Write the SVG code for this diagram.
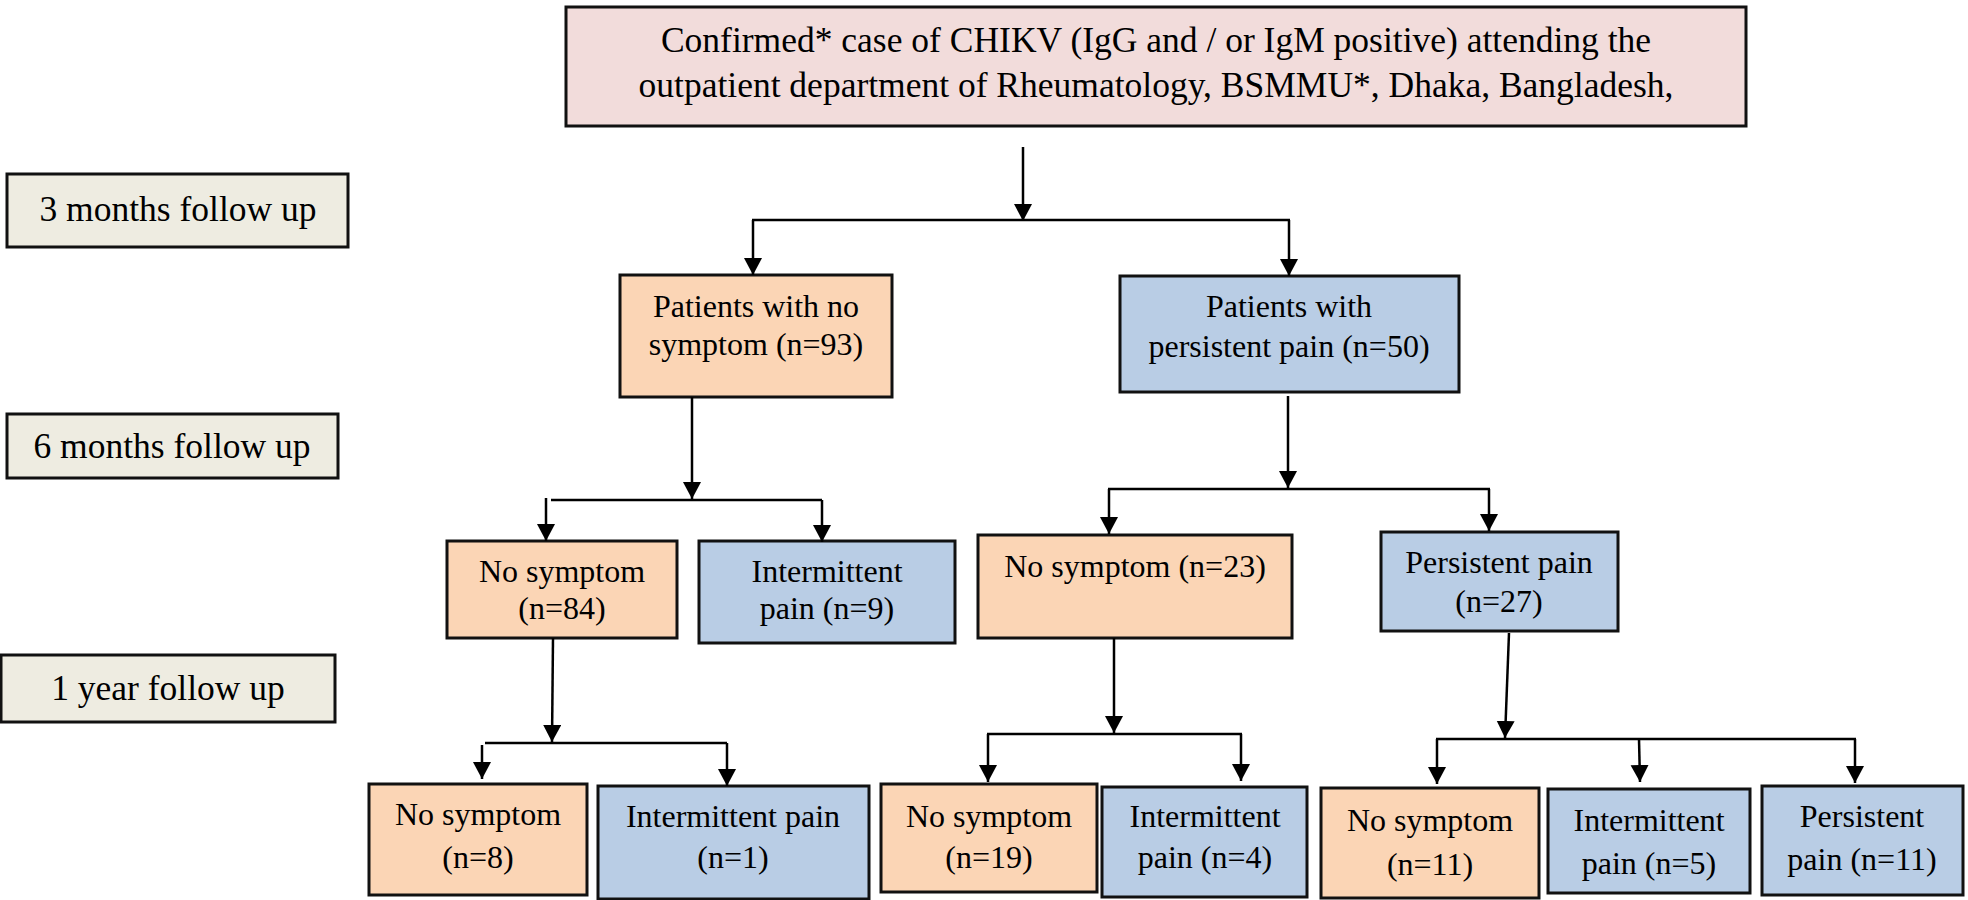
<svg xmlns="http://www.w3.org/2000/svg" width="1968" height="900" viewBox="0 0 1968 900">
<defs>
<marker id="ah" markerUnits="userSpaceOnUse" markerWidth="20" markerHeight="20" refX="17" refY="9" orient="auto">
<path d="M0,0 L17,9 L0,18 Z" fill="#000"/>
</marker>
<style>
.box{stroke:#111;stroke-width:3}
.pink{fill:#F2DCDB}
.org{fill:#FBD5B5}
.blu{fill:#B9CDE5}
.beige{fill:#EEECE1}
text{font-family:"Liberation Serif","Times New Roman",serif;fill:#000;text-anchor:middle}
.t{font-size:32px}
.tl{font-size:35.5px}
.tt{font-size:35.5px}
.c line{stroke:#000;stroke-width:2.5}
.c .a{marker-end:url(#ah)}
</style>
</defs>
<rect width="1968" height="900" fill="#fff"/>

<g id="top">
<rect class="box pink" x="566" y="7" width="1180" height="119"/>
<text class="tt" x="1156" y="52">Confirmed* case of CHIKV (IgG and / or IgM positive) attending the</text>
<text class="tt" x="1156" y="97">outpatient department of Rheumatology, BSMMU*, Dhaka, Bangladesh,</text>
</g>

<g id="label-3m">
<rect class="box beige" x="7" y="174" width="341" height="73"/>
<text class="tl" x="178" y="221">3 months follow up</text>
</g>
<g id="label-6m">
<rect class="box beige" x="7" y="414" width="331" height="64"/>
<text class="tl" x="172" y="458">6 months follow up</text>
</g>
<g id="label-1y">
<rect class="box beige" x="1" y="655" width="334" height="67"/>
<text class="tl" x="168" y="700">1 year follow up</text>
</g>

<g id="n93">
<rect class="box org" x="620" y="275" width="272" height="122"/>
<text class="t" x="756" y="317">Patients with no</text>
<text class="t" x="756" y="355">symptom (n=93)</text>
</g>
<g id="n50">
<rect class="box blu" x="1120" y="276" width="339" height="116"/>
<text class="t" x="1289" y="317">Patients with</text>
<text class="t" x="1289" y="357">persistent pain (n=50)</text>
</g>

<g id="n84">
<rect class="box org" x="447" y="541" width="230" height="97"/>
<text class="t" x="562" y="582">No symptom</text>
<text class="t" x="562" y="619">(n=84)</text>
</g>
<g id="n9">
<rect class="box blu" x="699" y="541" width="256" height="102"/>
<text class="t" x="827" y="582">Intermittent</text>
<text class="t" x="827" y="619">pain (n=9)</text>
</g>
<g id="n23">
<rect class="box org" x="978" y="535" width="314" height="103"/>
<text class="t" x="1135" y="577">No symptom (n=23)</text>
</g>
<g id="n27">
<rect class="box blu" x="1381" y="532" width="237" height="99"/>
<text class="t" x="1499" y="573">Persistent pain</text>
<text class="t" x="1499" y="612">(n=27)</text>
</g>

<g id="n8">
<rect class="box org" x="369" y="784" width="218" height="111"/>
<text class="t" x="478" y="825">No symptom</text>
<text class="t" x="478" y="868">(n=8)</text>
</g>
<g id="n1">
<rect class="box blu" x="598" y="786" width="271" height="113"/>
<text class="t" x="733" y="827">Intermittent pain</text>
<text class="t" x="733" y="868">(n=1)</text>
</g>
<g id="n19">
<rect class="box org" x="881" y="784" width="216" height="108"/>
<text class="t" x="989" y="827">No symptom</text>
<text class="t" x="989" y="868">(n=19)</text>
</g>
<g id="n4">
<rect class="box blu" x="1102" y="787" width="205" height="110"/>
<text class="t" x="1205" y="827">Intermittent</text>
<text class="t" x="1205" y="868">pain (n=4)</text>
</g>
<g id="n11a">
<rect class="box org" x="1321" y="788" width="218" height="110"/>
<text class="t" x="1430" y="831">No symptom</text>
<text class="t" x="1430" y="875">(n=11)</text>
</g>
<g id="n5">
<rect class="box blu" x="1548" y="789" width="202" height="104"/>
<text class="t" x="1649" y="831">Intermittent</text>
<text class="t" x="1649" y="874">pain (n=5)</text>
</g>
<g id="n11b">
<rect class="box blu" x="1762" y="786" width="201" height="109"/>
<text class="t" x="1862" y="827">Persistent</text>
<text class="t" x="1862" y="870">pain (n=11)</text>
</g>

<g id="connectors" class="c">
<line class="a" x1="1023" y1="147" x2="1023" y2="221"/>
<line x1="752" y1="220" x2="1290" y2="220"/>
<line class="a" x1="753" y1="220" x2="753" y2="275"/>
<line class="a" x1="1289" y1="220" x2="1289" y2="276"/>

<line class="a" x1="692" y1="397" x2="692" y2="499"/>
<line x1="551" y1="500" x2="822" y2="500"/>
<line class="a" x1="546" y1="498" x2="546" y2="541"/>
<line class="a" x1="822" y1="500" x2="822" y2="542"/>

<line class="a" x1="1288" y1="396" x2="1288" y2="488"/>
<line x1="1108" y1="489" x2="1490" y2="489"/>
<line class="a" x1="1109" y1="489" x2="1109" y2="534"/>
<line class="a" x1="1489" y1="489" x2="1489" y2="531"/>

<line class="a" x1="553" y1="638" x2="552" y2="742"/>
<line x1="485" y1="743" x2="727" y2="743"/>
<line class="a" x1="482" y1="745" x2="482" y2="779"/>
<line class="a" x1="727" y1="743" x2="727" y2="786"/>

<line class="a" x1="1114" y1="638" x2="1114" y2="733"/>
<line x1="987" y1="734" x2="1242" y2="734"/>
<line class="a" x1="988" y1="734" x2="988" y2="782"/>
<line class="a" x1="1241" y1="734" x2="1241" y2="781"/>

<line class="a" x1="1509" y1="633" x2="1505" y2="738"/>
<line x1="1436" y1="739" x2="1856" y2="739"/>
<line class="a" x1="1437" y1="739" x2="1437" y2="784"/>
<line class="a" x1="1639" y1="739" x2="1640" y2="782"/>
<line class="a" x1="1855" y1="739" x2="1855" y2="783"/>
</g>
</svg>
